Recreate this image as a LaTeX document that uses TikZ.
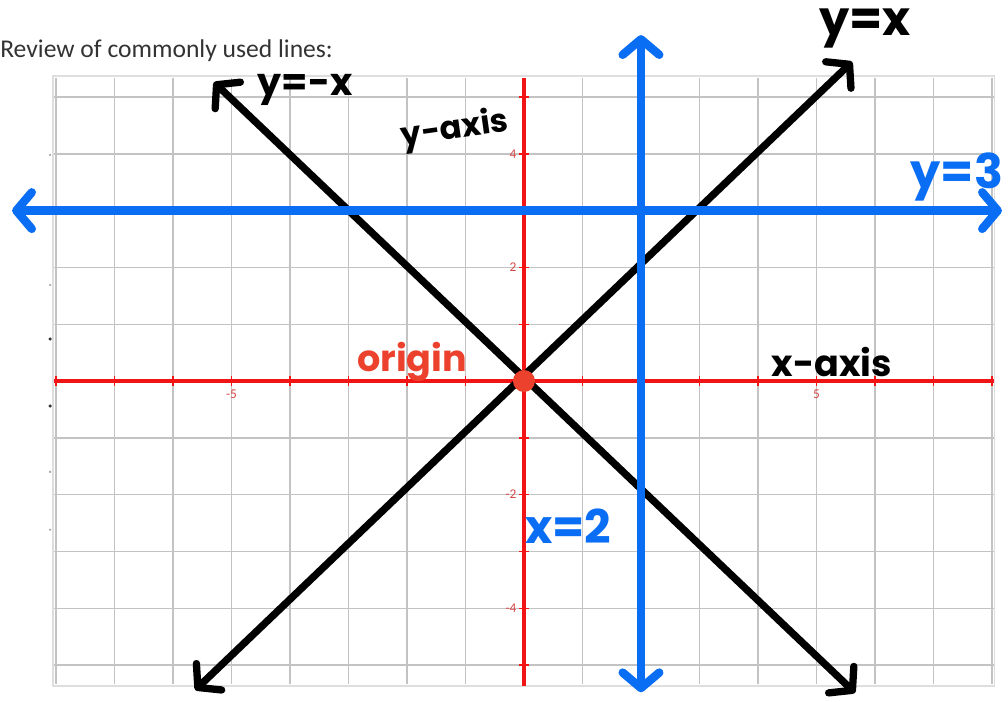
\documentclass[tikz,border=0pt]{standalone}
\usepackage{fontspec}
\setmainfont{Carlito}
\newfontfamily\handfont{Poppins}
\usetikzlibrary{arrows.meta}
\definecolor{penblue}{RGB}{10,110,245}
\definecolor{axisred}{RGB}{240,20,20}
\definecolor{penred}{RGB}{235,65,45}
\definecolor{gridgray}{RGB}{195,195,195}
\definecolor{ticklabel}{RGB}{215,70,70}
\begin{document}
\begin{tikzpicture}[x=1.4625cm,y=1.42cm]
\tikzstyle{pen} = [line width=5.2pt, line cap=round, >={Straight Barb[round,length=11pt,width=26pt]}, <->]
\tikzstyle{hand} = [inner sep=0pt, font=\handfont\bfseries]
\tikzstyle{tick label} = [inner sep=1pt, text=ticklabel, font=\fontsize{9.5}{10}\selectfont]
\tikzstyle{speck} = [shape = circle, fill = black!80, minimum size = 2.5pt, inner sep=0pt]

\useasboundingbox (-8.957,-5.651) rectangle (8.274,6.708);

\node[anchor=base west, inner sep=0pt, text=black!80, font=\fontsize{18.2}{20}\selectfont] (title) at (-8.957,5.687) {Review of commonly used lines:};

% grid
\draw[gridgray!55, line width=0.8pt] (-8.05,-5.37) rectangle (8.05,5.37);
\foreach \x in {-8,...,8} \draw[gridgray, line width=1pt] (\x,-5.33) -- (\x,5.33);
\foreach \y in {-5,...,5} \draw[gridgray, line width=1pt] (-8.03,\y) -- (8.03,\y);

% specks at the left edge
\foreach \y in {2.96,0.74,-0.44} \node[speck] at (-8.1,\y) {};
\foreach \y in {3.98,1.69,-1.60,-2.62} \node[speck, fill=black!35, minimum size=1.8pt] at (-8.1,\y) {};

% axes
\draw[axisred, line width=2.2pt] (-8.03,0) -- (8.03,0);
\draw[axisred, line width=2.2pt] (0,-5.37) -- (0,5.33);
\foreach \x in {-8,...,8} \draw[axisred, line width=1pt] (\x,-0.08) -- (\x,0.08);
\foreach \y in {-5,...,5} \draw[axisred, line width=1pt] (-0.08,\y) -- (0.08,\y);
\node[tick label, below] (xm5) at (-5,-0.12) {-5};
\node[tick label, below] (xp5) at (5,-0.12) {5};
\foreach \y in {-4,-2,2,4} \node[tick label, anchor=east] (y\y) at (-0.1,\y) {\y};

% named ends of the lines
\coordinate (yx-lo) at (-5.62,-5.44);
\coordinate (yx-hi) at (5.61,5.62);
\coordinate (ymx-hi) at (-5.3,5.26);
\coordinate (ymx-lo) at (5.66,-5.49);
\coordinate (y3-l) at (-8.75,3.0);
\coordinate (y3-r) at (8.17,3.0);
\coordinate (x2-t) at (2,6.09);
\coordinate (x2-b) at (2,-5.48);

\draw[pen, black] (yx-lo) -- (yx-hi);
\draw[pen, black] (ymx-hi) -- (ymx-lo);
\draw[pen, penblue, line width=6pt] (y3-l) -- (y3-r);
\draw[pen, penblue, line width=6pt] (x2-b) -- (x2-t);

\node[shape=circle, fill=penred, minimum size=0.55cm, inner sep=0pt] (O) at (0,0) {};

% handwritten labels
\node[hand, font=\handfont\bfseries\fontsize{27}{27}\selectfont] (lab-ymx) at (-3.74,5.12) {y=-x};
\node[hand, rotate=8, font=\handfont\bfseries\fontsize{23}{23}\selectfont] (lab-yaxis) at (-1.18,4.42) {y-axis};
\node[hand, font=\handfont\bfseries\fontsize{34}{34}\selectfont] (lab-yx) at (5.83,6.2) {y=x};
\node[hand, text=penblue, font=\handfont\bfseries\fontsize{34}{34}\selectfont] (lab-y3) at (7.40,3.6) {y=3};
\node[hand, text=penred, font=\handfont\bfseries\fontsize{26}{26}\selectfont] (lab-origin) at (-1.91,0.33) {origin};
\node[hand, font=\handfont\bfseries\fontsize{26}{26}\selectfont] (lab-xaxis) at (5.26,0.33) {x-axis};
\node[hand, text=penblue, font=\handfont\bfseries\fontsize{33}{33}\selectfont] (lab-x2) at (0.76,-2.56) {x=2};

\end{tikzpicture}
\end{document}
